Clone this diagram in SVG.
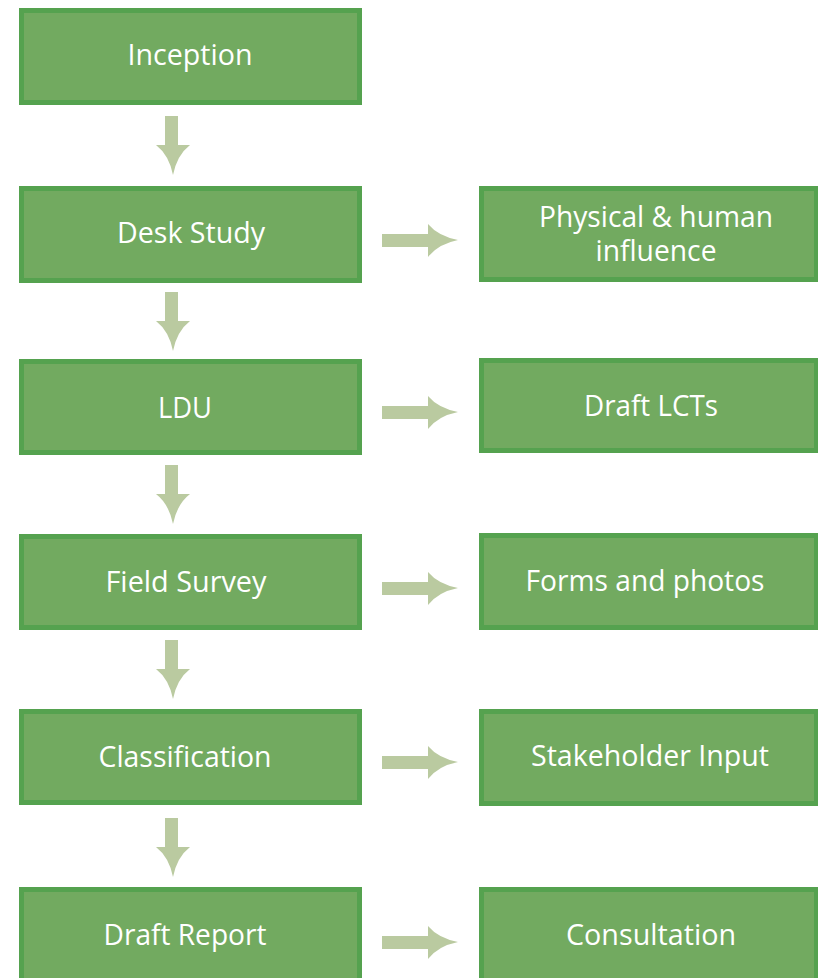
<svg xmlns="http://www.w3.org/2000/svg" width="818" height="978" viewBox="0 0 818 978">
  <style>
    .box { fill: #72aa60; stroke: #55a24f; stroke-width: 5; }
    .lbl { fill: #ffffff; font-family: "Open Sans", "Liberation Sans", sans-serif; font-size: 29px; text-anchor: middle; }
    .arrow { fill: #bacaa0; }
  </style>
  <defs>
    <!-- downward block arrow, tip at (0,0) -->
    <path id="down" d="M-8,-59 L5,-59 L5,-30 L17,-30 Q4,-20 0,0 Q-4,-20 -17,-30 L-8,-30 Z"/>
    <!-- rightward block arrow, tip at (0,0) -->
    <path id="right" d="M-76,-6 L-30,-6 L-30,-16 Q-20,-4 0,0 Q-20,4 -30,17 L-30,7 L-76,7 Z"/>
  </defs>

  <rect width="818" height="978" fill="#ffffff"/>

  <!-- connectors -->
  <g id="connectors" class="arrow">
    <use href="#down" x="173" y="175"/>
    <use href="#down" x="173" y="351"/>
    <use href="#down" x="173" y="524"/>
    <use href="#down" x="173" y="699"/>
    <use href="#down" x="173" y="877"/>
    <use href="#right" x="458" y="240"/>
    <use href="#right" x="458" y="412"/>
    <use href="#right" x="458" y="588"/>
    <use href="#right" x="458" y="762"/>
    <use href="#right" x="458" y="942"/>
  </g>

  <!-- main process column -->
  <g id="inception">
    <rect class="box" x="21.5" y="10.5" width="338" height="92"/>
    <text class="lbl" x="190" y="65" textLength="125" lengthAdjust="spacingAndGlyphs">Inception</text>
  </g>
  <g id="desk-study">
    <rect class="box" x="21.5" y="188.5" width="338" height="92"/>
    <text class="lbl" x="191" y="243" textLength="148" lengthAdjust="spacingAndGlyphs">Desk Study</text>
  </g>
  <g id="ldu">
    <rect class="box" x="21.5" y="361.5" width="338" height="91"/>
    <text class="lbl" x="185" y="418" textLength="54" lengthAdjust="spacingAndGlyphs">LDU</text>
  </g>
  <g id="field-survey">
    <rect class="box" x="21.5" y="536.5" width="338" height="91"/>
    <text class="lbl" x="186" y="592" textLength="161" lengthAdjust="spacingAndGlyphs">Field Survey</text>
  </g>
  <g id="classification">
    <rect class="box" x="21.5" y="711.5" width="338" height="91"/>
    <text class="lbl" x="185" y="767" textLength="173" lengthAdjust="spacingAndGlyphs">Classification</text>
  </g>
  <g id="draft-report">
    <rect class="box" x="21.5" y="889.5" width="338" height="100"/>
    <text class="lbl" x="185" y="945" textLength="163" lengthAdjust="spacingAndGlyphs">Draft Report</text>
  </g>

  <!-- outputs column -->
  <g id="physical-human">
    <rect class="box" x="481.5" y="188.5" width="335" height="91"/>
    <text class="lbl" x="656" y="227" textLength="234" lengthAdjust="spacingAndGlyphs">Physical &amp; human</text>
    <text class="lbl" x="656" y="261" textLength="121" lengthAdjust="spacingAndGlyphs">influence</text>
  </g>
  <g id="draft-lcts">
    <rect class="box" x="481.5" y="360.5" width="335" height="90"/>
    <text class="lbl" x="651" y="416" textLength="134" lengthAdjust="spacingAndGlyphs">Draft LCTs</text>
  </g>
  <g id="forms-photos">
    <rect class="box" x="481.5" y="535.5" width="335" height="92"/>
    <text class="lbl" x="645" y="591" textLength="239" lengthAdjust="spacingAndGlyphs">Forms and photos</text>
  </g>
  <g id="stakeholder-input">
    <rect class="box" x="481.5" y="711.5" width="335" height="92"/>
    <text class="lbl" x="650" y="766" textLength="238" lengthAdjust="spacingAndGlyphs">Stakeholder Input</text>
  </g>
  <g id="consultation">
    <rect class="box" x="481.5" y="889.5" width="335" height="100"/>
    <text class="lbl" x="651" y="945" textLength="170" lengthAdjust="spacingAndGlyphs">Consultation</text>
  </g>
</svg>
